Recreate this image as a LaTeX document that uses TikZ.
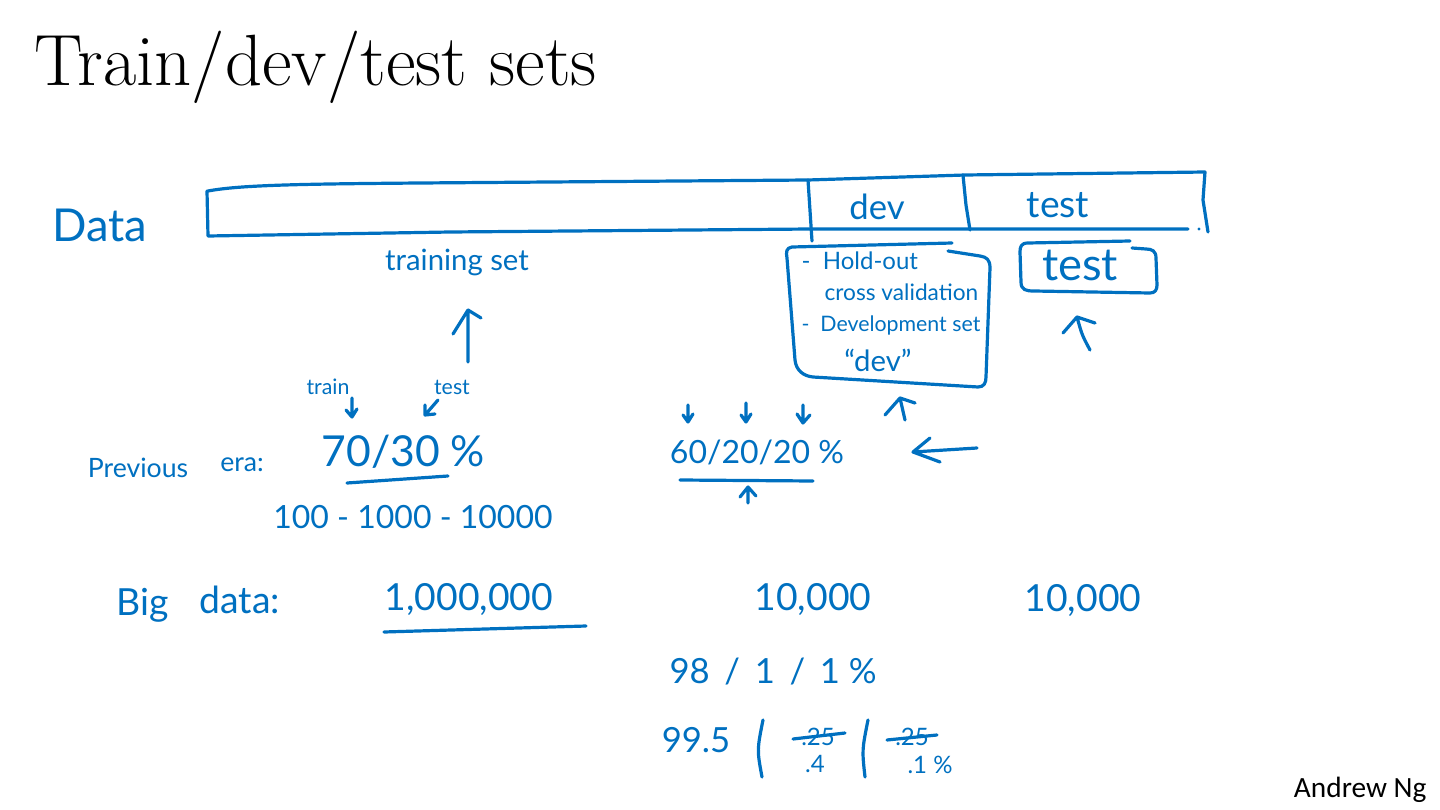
\documentclass[tikz,border=0pt]{standalone}
\usepackage{fontspec}
\newfontfamily\handfont{Lato}
\newfontfamily\ngfont{Carlito}
\definecolor{inkblue}{RGB}{0,112,192}
\newcommand{\handsz}[1]{\handfont\fontsize{#1}{#1}\selectfont}
\tikzset{every picture/.style={line width=2.4pt}}
\tikzset{ink/.style={draw=inkblue, line cap=round, line join=round},
  hand/.style={text=inkblue, inner sep=0pt}}

\begin{document}
\begin{tikzpicture}[x=0.75pt,y=0.75pt,yscale=-1,xscale=1]
	\useasboundingbox (0,0) rectangle (1440,810);

	% Text Node
	\draw (33,85) node [anchor=base west, inner sep=0pt, font=\fontsize{54.5}{56}\selectfont] (title) {Train/dev/test sets};
	% Text Node
	\draw (1428,797) node [anchor=base east, inner sep=0pt, font=\ngfont\fontsize{22}{24}\selectfont] (author) {Andrew Ng};

	%Shape: Data bar
	\draw [ink] (208,191) .. controls (240,185) and (300,184) .. (420,183) -- (808,180) -- (965,175) -- (1205,172) -- (1203,200) -- (1208,232) ;
	\draw [ink] (207,191) -- (208,236) -- (450,232) -- (810,229) -- (1188,229) ;
	\fill [inkblue] (1199,229) circle (1.6) ;
	%Straight Lines
	\draw [ink] (808,180) -- (812,241) ;
	\draw [ink] (963,175) -- (966,205) -- (970,230) ;

	% Text Node
	\draw (100,225) node [hand, font=\handsz{34}] (data) {Data};
	% Text Node
	\draw (877,207) node [hand, font=\handsz{26}] (devcell) {dev};
	% Text Node
	\draw (1058,205) node [hand, font=\handsz{28}] (testcell) {test};
	% Text Node
	\draw (457,262) node [hand, font=\handsz{22}] (trainset) {training set};

	%Straight Lines: arrow to training set
	\draw [ink] (468,362) -- (468,310) (453,334) -- (468,310) -- (481,318) ;

	% Text Node
	\draw (328,387) node [hand, font=\handsz{16}] (trainlbl) {train};
	% Text Node
	\draw (452,387) node [hand, font=\handsz{16}] (testlbl) {test};
	%Straight Lines
	\draw [ink] (352,398) -- (352,417) (346,410) -- (352,417) -- (357,409) ;
	\draw [ink] (438,400) -- (425,415) (425,405) -- (425,415) -- (435,414) ;

	% Text Node
	\draw (138,468) node [hand, font=\handsz{20}] (prev) {Previous};
	% Text Node
	\draw (242,465) node [hand, font=\handsz{20}] (era) {era:};
	% Text Node
	\draw (320,452) node [hand, anchor=west, font=\handsz{32}] (split) {70/30 \%};
	\draw [ink] (347,483) -- (448,476) ;
	% Text Node
	\draw (413,517) node [hand, font=\handsz{24}] (sizes) {100 - 1000 - 10000};

	%Shape: dev box
	\draw [ink] (952,243) -- (792,247) .. controls (786,248) and (786,252) .. (787,258) -- (795,360) .. controls (796,370) and (803,376) .. (813,377) -- (978,387) .. controls (984,387) and (986,383) .. (986,377) -- (990,268) .. controls (990,260) and (987,257) .. (980,256) -- (948,251) ;
	% Text Node
	\draw (800,261) node [hand, anchor=west, font=\handsz{18}] (holdout) {-\ \ Hold-out};
	% Text Node
	\draw (823,292) node [hand, anchor=west, font=\handsz{17}] (crossval) {cross validation};
	% Text Node
	\draw (800,325) node [hand, anchor=west, font=\handsz{16}] (devset) {-\ \ Development set};
	% Text Node
	\draw (878,360) node [hand, font=\handsz{22}] (devq) {“dev”};

	%Shape: test box
	\draw [ink] (1130,241) -- (1028,243) .. controls (1021,243) and (1020,247) .. (1020,252) -- (1021,282) .. controls (1021,290) and (1026,291) .. (1034,291) -- (1150,293) .. controls (1155,293) and (1157,290) .. (1157,285) -- (1156,258) .. controls (1156,251) and (1152,249) .. (1146,249) -- (1132,248) ;
	% Text Node
	\draw (1080,265) node [hand, font=\handsz{34}] (testbox) {test};

	%Straight Lines: arrows under the boxes
	\draw [ink] (1090,350) .. controls (1082,335) .. (1077,317) (1063,333) -- (1077,317) -- (1095,323) ;
	\draw [ink] (905,420) -- (900,398) (885,415) -- (900,398) -- (915,403) ;

	%Straight Lines: small down arrows
	\draw [ink] (688,405) -- (688,422) (683,415) -- (688,422) -- (693,414) ;
	\draw [ink] (746,403) -- (746,422) (741,415) -- (746,422) -- (751,414) ;
	\draw [ink] (803,405) -- (803,423) (797,414) -- (803,423) -- (810,415) ;
	% Text Node
	\draw (757,452) node [hand, font=\handsz{24}] (newsplit) {60/20/20 \%};
	\draw [ink] (680,480) -- (813,481) ;
	\draw [ink] (748,503) -- (748,487) (740,497) -- (748,487) -- (756,496) ;
	%Straight Lines: left arrow
	\draw [ink] (977,448) -- (913,452) (930,438) -- (913,452) -- (940,462) ;

	% Text Node
	\draw (143,605) node [hand, font=\handsz{28}] (big) {Big};
	% Text Node
	\draw (240,600) node [hand, font=\handsz{28}] (bigdata) {data:};
	% Text Node
	\draw (469,600) node [hand, font=\handsz{28}] (million) {1,000,000};
	\draw [ink] (384,632) -- (586,626) ;
	% Text Node
	\draw (813,599) node [hand, font=\handsz{28}] (devn) {10,000};
	% Text Node
	\draw (1083,601) node [hand, font=\handsz{28}] (testn) {10,000};

	% Text Node
	\draw (668,672) node [hand, anchor=west, font=\handsz{26}] (ratioa) {98 \,/\, 1 \,/\, 1 \%};
	% Text Node
	\draw (696,740) node [hand, font=\handsz{26}] (ratiob) {99.5};
	\draw [ink] (763,720) .. controls (757,750) .. (762,777) ;
	\draw [ink] (868,720) .. controls (862,750) .. (865,777) ;
	% Text Node
	\draw (818,737) node [hand, font=\handsz{18}] (deva) {.25};
	\draw [ink] (793,739) -- (845,733) ;
	% Text Node
	\draw (815,764) node [hand, font=\handsz{18}] (devb) {.4};
	% Text Node
	\draw (912,737) node [hand, font=\handsz{18}] (testa) {.25};
	\draw [ink] (887,740) -- (937,735) ;
	% Text Node
	\draw (930,765) node [hand, font=\handsz{18}] (testb) {.1 \%};

\end{tikzpicture}
\end{document}
